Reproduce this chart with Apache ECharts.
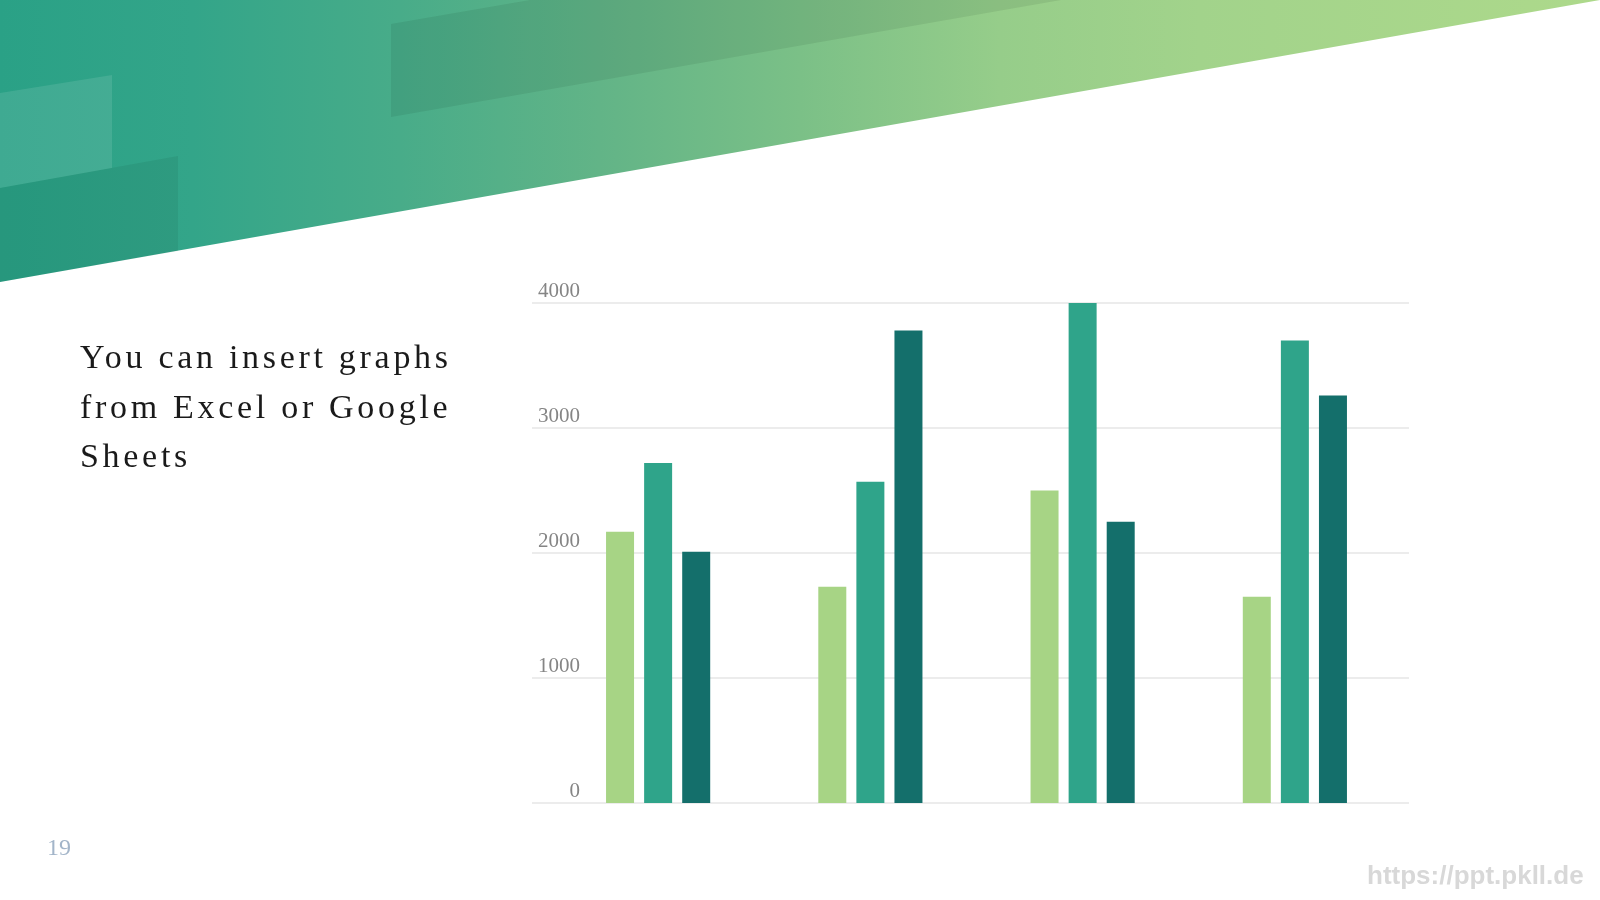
<!DOCTYPE html>
<html>
<head>
<meta charset="utf-8">
<title>Chart</title>
<script src="https://cdn.jsdelivr.net/npm/echarts@6/dist/echarts.min.js"></script>
<style>
	body {
		margin: 0;
		background: #fff;
	}

	#chart {
		position: absolute;
		left: 0;
		top: 0;
		width: 1600px;
		height: 900px;
	}

	.side-text {
		position: absolute;
		left: 80px;
		top: 332px;
		font-family: "Liberation Serif", serif;
		font-size: 34px;
		line-height: 49.5px;
		letter-spacing: 3.7px;
		color: #1a1a1a;
		white-space: nowrap;
	}
</style>
</head>
<body>
<div id="chart"></div>
<div class="side-text">You can insert graphs<br>from Excel or Google<br>Sheets</div>

<script>
	// data
	var categories = ['Category 1', 'Category 2', 'Category 3', 'Category 4']
	var seriesNames = ['Series 1', 'Series 2', 'Series 3']
	var series1 = [2170, 1730, 2500, 1650]
	var series2 = [2720, 2570, 4000, 3700]
	var series3 = [2010, 3780, 2250, 3260]
	var yTicks = [0, 1000, 2000, 3000, 4000]

	var colors = ['#a7d485', '#2fa48a', '#146f6b']

	var chart = echarts.init(document.getElementById('chart'), null, {renderer: 'canvas'})

	var option = {
		animation: false,
		// grid 0 carries the gridlines and labels, grid 1 the bars
		grid: [
			{left: 532, right: 191, top: 303, bottom: 97},
			{left: 552, right: 199, top: 303, bottom: 97}
		],
		xAxis: [
			{gridIndex: 0, type: 'category', data: categories, show: false},
			{gridIndex: 1, type: 'category', data: categories, show: false}
		],
		yAxis: [
			{
				gridIndex: 0,
				type: 'value',
				min: yTicks[0],
				max: yTicks[yTicks.length - 1],
				interval: yTicks[1] - yTicks[0],
				axisLine: {show: false},
				axisTick: {show: false},
				axisLabel: {
					inside: true,
					margin: 48,
					align: 'right',
					verticalAlign: 'bottom',
					padding: [0, 0, 1, 0],
					fontFamily: 'Liberation Serif',
					fontSize: 21,
					color: '#858585',
					formatter: function (v) {
						return String(v)
					}
				},
				splitLine: {
					lineStyle: {color: '#e6e6e6', width: 1.5}
				}
			},
			{
				gridIndex: 1,
				type: 'value',
				min: yTicks[0],
				max: yTicks[yTicks.length - 1],
				show: false,
				splitLine: {show: false}
			}
		],
		graphic: [
			{
				type: 'polygon',
				z: -10,
				shape: {points: [[0, 0], [1600, 0], [0, 282]]},
				style: {
					fill: {
						type: 'linear', x: 0, y: 0, x2: 1, y2: 0,
						colorStops: [
							{offset: 0, color: '#2aa186'},
							{offset: 0.12, color: '#33a589'},
							{offset: 0.25, color: '#48ac89'},
							{offset: 0.375, color: '#62b487'},
							{offset: 0.5, color: '#7bc087'},
							{offset: 0.625, color: '#96cd8a'},
							{offset: 0.75, color: '#a2d38b'},
							{offset: 1, color: '#add98b'}
						]
					}
				}
			},
			{
				type: 'polygon',
				z: -9,
				shape: {points: [[0, 93], [112, 75], [112, 168], [0, 188]]},
				style: {fill: 'rgba(255,255,255,0.1)'}
			},
			{
				type: 'polygon',
				z: -9,
				shape: {points: [[0, 188], [178, 156], [178, 251], [0, 282]]},
				style: {fill: 'rgba(0,30,20,0.07)'}
			},
			{
				type: 'polygon',
				z: -9,
				shape: {points: [[391, 24], [530, 0], [1061, 0], [391, 117]]},
				style: {fill: 'rgba(0,30,10,0.08)'}
			},
			{
				type: 'text',
				style: {
					text: '19',
					x: 47,
					y: 849,
					verticalAlign: 'middle',
					font: '24px "Liberation Serif"',
					fill: '#a3b5c9'
				}
			},
			{
				type: 'text',
				style: {
					text: 'https://ppt.pkll.de',
					x: 1367,
					y: 877,
					verticalAlign: 'middle',
					font: 'bold 26px "Liberation Sans"',
					fill: '#d8d8d8'
				}
			}
		],
		series: [
			{
				name: seriesNames[0],
				type: 'bar',
				xAxisIndex: 1,
				yAxisIndex: 1,
				barWidth: 28,
				barGap: '36%',
				itemStyle: {color: colors[0]},
				data: series1
			},
			{
				name: seriesNames[1],
				type: 'bar',
				xAxisIndex: 1,
				yAxisIndex: 1,
				barWidth: 28,
				barGap: '36%',
				itemStyle: {color: colors[1]},
				data: series2
			},
			{
				name: seriesNames[2],
				type: 'bar',
				xAxisIndex: 1,
				yAxisIndex: 1,
				barWidth: 28,
				barGap: '36%',
				itemStyle: {color: colors[2]},
				data: series3
			}
		]
	}

	chart.setOption(option)
</script>
</body>
</html>
